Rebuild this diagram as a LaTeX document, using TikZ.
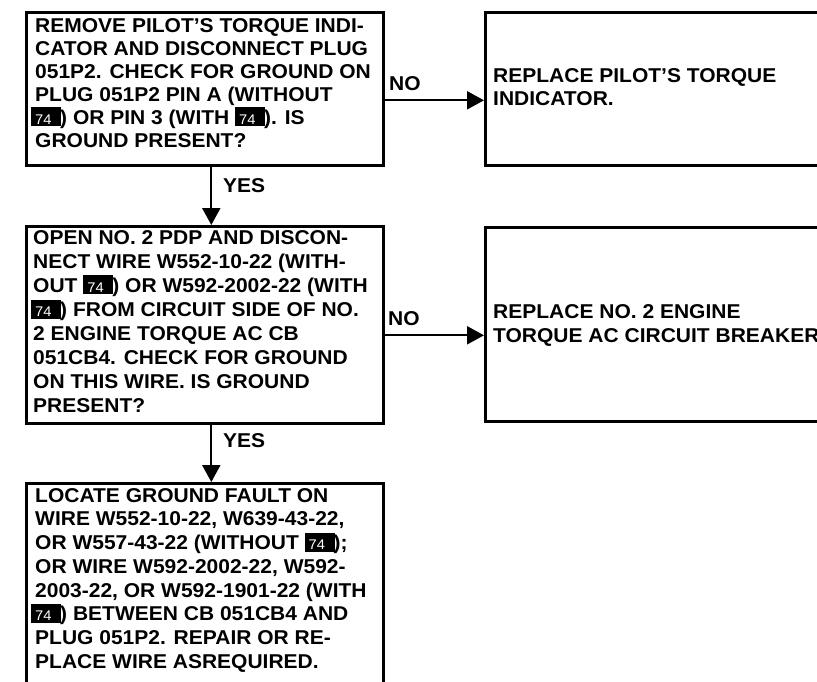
\documentclass[tikz,border=0pt]{standalone}
\usepackage{fontspec}
\setmainfont[FakeStretch=1.05]{Liberation Sans}
\usetikzlibrary{arrows.meta}
\newcommand{\bdg}{\makebox[0pt][l]{\rule[-2pt]{30pt}{19pt}}\makebox[30pt][l]{\hspace{4pt}\color{white}\fontsize{14}{14}\selectfont\mdseries 74}\kern-1pt}
\newcommand{\fst}{\rule{0pt}{17pt}}
\begin{document}
\begin{tikzpicture}[x=1pt,y=-1pt,
  bx/.style={draw, line width=2.6pt, inner sep=0pt, anchor=north west},
  txt/.style={anchor=north west, inner sep=0pt, align=left},
  lbl/.style={anchor=base west, inner sep=0pt, font=\bfseries\fontsize{20}{24}\selectfont},
  arr/.style={line width=2.2pt, -{Triangle[length=17pt,width=18pt]}}]
\useasboundingbox (0,0) rectangle (817,681);
% boxes
\node[bx, minimum width=357pt, minimum height=153pt] (b1) at (25,11) {};
\node[bx, minimum width=357pt, minimum height=197pt] (b2) at (25,225) {};
\node[bx, minimum width=357pt, minimum height=230pt] (b3) at (25,482) {};
\node[bx, minimum width=360pt, minimum height=153pt] (r1) at (484,11) {};
\node[bx, minimum width=360pt, minimum height=194pt] (r2) at (484,226) {};
% texts
\node[txt, font=\bfseries\fontsize{20}{23}\selectfont] (t1) at (35,15)
 {\fst REMOVE PILOT’S TORQUE INDI-\\CATOR AND DISCONNECT PLUG\\051P2. CHECK FOR GROUND ON\\PLUG 051P2 PIN A (WITHOUT\\\kern-4pt\bdg) OR PIN 3 (WITH \bdg). IS\\GROUND PRESENT?};
\node[txt, font=\bfseries\fontsize{20}{24.1}\selectfont] (t2) at (33,227)
 {\fst OPEN NO. 2 PDP AND DISCON-\\NECT WIRE W552-10-22 (WITH-\\OUT \bdg) OR W592-2002-22 (WITH\\\kern-2pt\bdg) FROM CIRCUIT SIDE OF NO.\\2 ENGINE TORQUE AC CB\\051CB4. CHECK FOR GROUND\\ON THIS WIRE. IS GROUND\\PRESENT?};
\node[txt, font=\bfseries\fontsize{20}{23.7}\selectfont] (t3) at (35,485)
 {\fst LOCATE GROUND FAULT ON\\WIRE W552-10-22, W639-43-22,\\OR W557-43-22 (WITHOUT \bdg);\\OR WIRE W592-2002-22, W592-\\2003-22, OR W592-1901-22 (WITH\\\kern-4pt\bdg) BETWEEN CB 051CB4 AND\\PLUG 051P2. REPAIR OR RE-\\PLACE WIRE ASREQUIRED.};
\node[txt, font=\bfseries\fontsize{20}{23}\selectfont] (tr1) at (493,65)
 {\fst REPLACE PILOT’S TORQUE\\INDICATOR.};
\node[txt, font=\bfseries\fontsize{20}{24}\selectfont] (tr2) at (493,301)
 {\fst REPLACE NO. 2 ENGINE\\TORQUE AC CIRCUIT BREAKER};
% connectors
\draw[arr] ([xshift=6.5pt]b1.south) -- ([xshift=6.5pt]b2.north);
\draw[arr] ([xshift=6.5pt]b2.south) -- ([xshift=6.5pt]b3.north);
\draw[arr] ([yshift=-11.5pt]b1.east) -- ([yshift=-11.5pt]b1.east -| r1.west);
\draw[arr] ([yshift=-10.5pt]b2.east) -- ([yshift=-10.5pt]b2.east -| r2.west);
% labels
\node[lbl] (y1) at (223,192) {YES};
\node[lbl] (y2) at (223,447) {YES};
\node[lbl] (n1) at (389,90) {NO};
\node[lbl] (n2) at (388,325) {NO};
\end{tikzpicture}
\end{document}
